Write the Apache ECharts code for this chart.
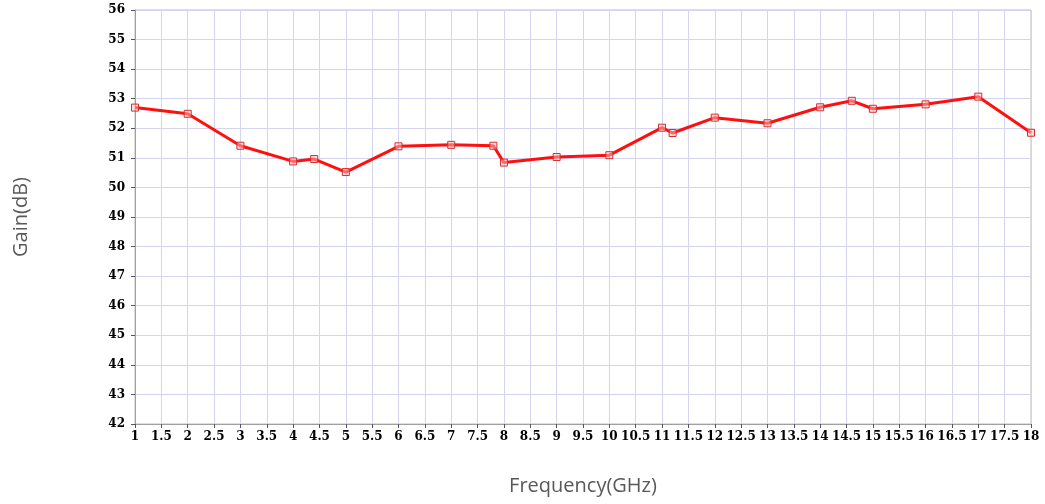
<!DOCTYPE html>
<html>
<head>
<meta charset="utf-8">
<script src="https://cdn.jsdelivr.net/npm/echarts@6/dist/echarts.min.js"></script>
<style>
    html, body { margin: 0; padding: 0; background: #fff; }
    #gain { width: 1045px; height: 504px; }
</style>
</head>
<body>
<div id="gain"></div>
<script type="text/javascript">
    // frequency points (GHz) and measured gain (dB)
    var freqs = [1, 2, 3, 4, 4.4, 5, 6, 7, 7.8, 8, 9, 10, 11, 11.2, 12, 13, 14, 14.6, 15, 16, 17, 18];
    var gains = [52.7, 52.49, 51.41, 50.88, 50.96, 50.52, 51.39, 51.44, 51.41, 50.84, 51.03, 51.09,
                 52.02, 51.84, 52.36, 52.17, 52.71, 52.93, 52.66, 52.81, 53.07, 51.85];
    var xTitle = 'Frequency(GHz)';
    var yTitle = 'Gain(dB)';

    var myChart = echarts.init(document.getElementById('gain'));
    var labelFont = { fontFamily: 'DejaVu Serif', fontWeight: 'bold', fontSize: 12, color: '#000' };

    var pts = [];
    freqs.forEach(function (f, i) { pts.push([f, gains[i]]); });

    option = {
        animation: false,
        grid: {
            left: 135, right: 14, top: 10, bottom: 80,
            outerBoundsMode: 'none',
            containLabel: false,
            show: true, borderColor: '#bdbdbd', borderWidth: 1
        },
        xAxis: {
            type: 'value',
            min: 1, max: 18, interval: 0.5,
            name: xTitle,
            nameLocation: 'middle',
            nameGap: 52,
            nameTextStyle: { fontFamily: 'Open Sans', fontSize: 20, color: '#595959' },
            axisLine: { lineStyle: { color: '#a0a0a0' } },
            axisTick: { show: true, length: 4, lineStyle: { color: '#555' } },
            axisLabel: Object.assign({ margin: 7 }, labelFont),
            splitLine: { lineStyle: { color: '#d4d4f0' } }
        },
        yAxis: {
            type: 'value',
            min: 42, max: 56, interval: 1,
            name: yTitle,
            nameLocation: 'middle',
            nameGap: 104,
            nameTextStyle: { fontFamily: 'Open Sans', fontSize: 20, color: '#595959' },
            axisLine: { show: true, lineStyle: { color: '#a0a0a0' } },
            axisTick: { show: true, length: 4, lineStyle: { color: '#555' } },
            axisLabel: Object.assign({ margin: 10 }, labelFont),
            splitLine: { lineStyle: { color: '#d4d4f0' } }
        },
        series: [
            {
                type: 'line',
                data: pts,
                symbol: 'rect',
                symbolSize: 7,
                lineStyle: { color: '#ff1010', width: 3 },
                itemStyle: { color: 'rgba(255,190,190,0.5)', borderColor: '#d03030', borderWidth: 1 },
                z: 3
            }
        ]
    };
    myChart.setOption(option);
</script>
</body>
</html>
